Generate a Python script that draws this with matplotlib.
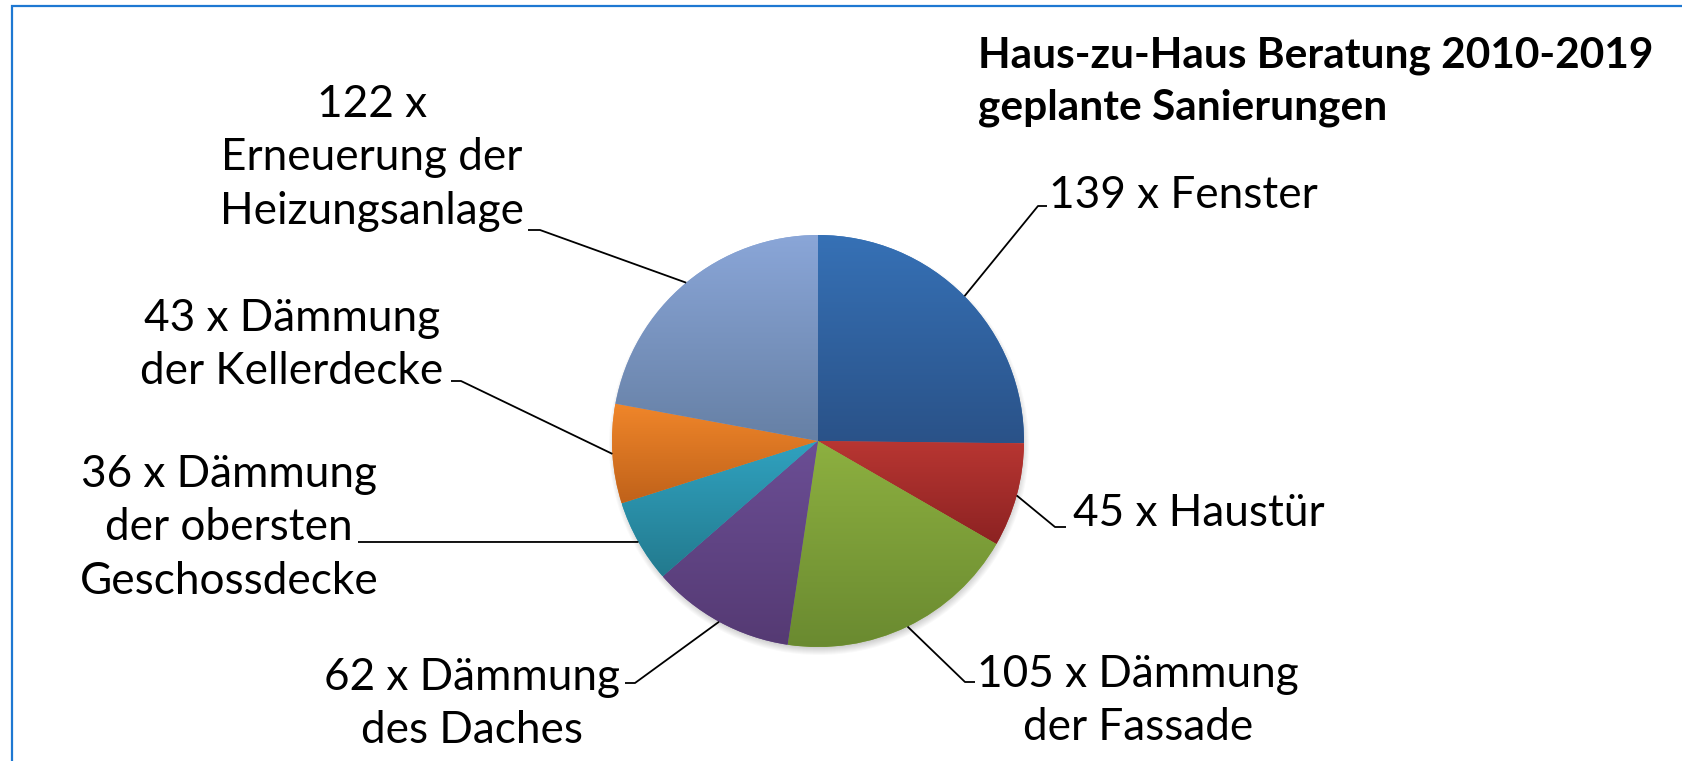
import numpy as np
import matplotlib
matplotlib.use("Agg")
import matplotlib.pyplot as plt
from matplotlib.patches import Circle, Rectangle
from matplotlib.colors import to_rgb

# chart data
counts = [139, 45, 105, 62, 36, 43, 122]
labels = [
    "139 x Fenster",
    "45 x Haustür",
    "105 x Dämmung\nder Fassade",
    "62 x Dämmung\ndes Daches",
    "36 x Dämmung\nder obersten\nGeschossdecke",
    "43 x Dämmung\nder Kellerdecke",
    "122 x\nErneuerung der\nHeizungsanlage",
]
title_lines = "Haus-zu-Haus Beratung 2010-2019\ngeplante Sanierungen"

# gradient colours (top, bottom) per slice
grad_top = ["#3671b6", "#b83632", "#8db040", "#6b4e95", "#30a2c0", "#f0862a", "#8aa6d8"]
grad_bot = ["#2a5288", "#8c2222", "#6a8a30", "#553a73", "#237a8e", "#c0621a", "#6680a5"]

W, H = 1682, 761
FONT = "Lato"


def Y(y):
    # layout was measured from the top of the picture
    return H - y


fig = plt.figure(figsize=(W / 100, H / 100), dpi=100)
ax = fig.add_axes([0, 0, 1, 1])

cx, cy, r = 818, Y(441), 206

# soft shadow under the pie
for i in range(10):
    ax.add_patch(Circle((cx + 1, cy - 4), r + 4 - i, color="black", alpha=0.025, lw=0, zorder=1))

wedges, _ = ax.pie(counts, startangle=90, counterclock=False, center=(cx, cy), radius=r,
                   colors=grad_top, wedgeprops=dict(linewidth=0), frame=True)

for w, c0, c1 in zip(wedges, grad_top, grad_bot):
    w.set_zorder(2)
    ext = w.get_path().get_extents()
    t = np.linspace(0, 1, 256)[:, None]
    img = (1 - t) * np.array(to_rgb(c0)) + t * np.array(to_rgb(c1))
    img = img[:, None, :]
    im = ax.imshow(img, extent=(ext.x0, ext.x1, ext.y0, ext.y1), origin="upper",
                   aspect="auto", interpolation="bilinear", zorder=3)
    im.set_clip_path(w)

# label layout: text position, alignment, leader elbow points (picture coords)
label_pos = [
    (1049, 195, "left"),
    (1073, 513, "left"),
    (1138, 701, "center"),
    (472, 704, "center"),
    (229, 528, "center"),
    (292, 345, "center"),
    (372, 158, "center"),
]
leader_pts = [
    [(1038, 206), (1047, 206)],
    [(1055, 527), (1066, 527)],
    [(965, 682), (975, 682)],
    [(635, 683), (625, 683)],
    [(358, 542)],
    [(461, 381), (451, 381)],
    [(540, 230), (528, 230)],
]

total = sum(counts)
start = 90.0
for k, (lab, (tx, ty, ha), pts) in enumerate(zip(labels, label_pos, leader_pts)):
    sweep = 360.0 * counts[k] / total
    mid = np.deg2rad(start - sweep / 2)
    start -= sweep
    ex, ey = cx + r * np.cos(mid), cy + r * np.sin(mid)
    xs = [ex] + [p[0] for p in pts]
    ys = [ey] + [Y(p[1]) for p in pts]
    ax.plot(xs, ys, color="black", lw=1.3, zorder=4, solid_capstyle="butt")
    ax.text(tx, Y(ty), lab, ha=ha, va="center", multialignment="center",
            fontsize=31.8, family=FONT, linespacing=1.38, color="black", zorder=5)

ax.text(978, Y(82), title_lines, ha="left", va="center", fontsize=30.5, family=FONT,
        fontweight="bold", linespacing=1.42, color="black")

# blue frame around the chart area
ax.add_patch(Rectangle((12, -20), W + 40, Y(6) + 20, fill=False, edgecolor="#1e78d2", lw=1.6, zorder=6))

ax.set_xlim(0, W)
ax.set_ylim(0, H)
ax.set_aspect("auto")
ax.axis("off")

fig.savefig("out.png", dpi=100, facecolor="white")
